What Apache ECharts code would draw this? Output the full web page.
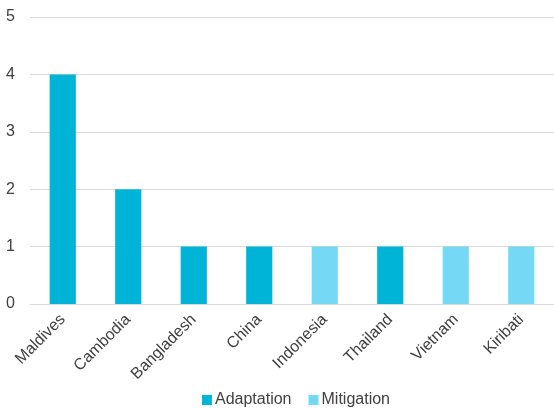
<!DOCTYPE html>
<html><head><meta charset="utf-8">
<script src="https://cdn.jsdelivr.net/npm/echarts@6/dist/echarts.min.js"></script>
<style>html,body{margin:0;padding:0;background:#fff}#c{width:554px;height:409px}</style>
</head><body><div id="c"></div>
<script>
const categories = ['Maldives','Cambodia','Bangladesh','China','Indonesia','Thailand','Vietnam','Kiribati'];
const adaptation = [4, 2, 1, 1, null, 1, null, null];
const mitigation = [null, null, null, null, 1, null, 1, 1];
const yTicks = [0,1,2,3,4,5];

const chart = echarts.init(document.getElementById('c'));
const font = 'Liberation Sans, Arial, sans-serif';
chart.setOption({
  animation: false,
  grid: {left: 30, right: 0, top: 17, bottom: 105, containLabel: false},
  legend: {
    top: 387, left: 197,
    itemWidth: 10, itemHeight: 10, itemGap: 17,
    icon: 'rect',
    textStyle: {fontFamily: font, fontSize: 16, color: '#404040', padding: [0,0,0,-2]},
    data: ['Adaptation','Mitigation']
  },
  xAxis: {
    type: 'category', data: categories,
    axisLine: {lineStyle: {color: '#d9d9d9'}},
    axisTick: {show: false},
    axisLabel: {rotate: 45, interval: 0, fontFamily: font, fontSize: 16, color: '#404040', margin: 13}
  },
  yAxis: {
    type: 'value', min: 0, max: 5, interval: 1,
    axisLine: {show: false}, axisTick: {show: false},
    splitLine: {lineStyle: {color: '#d9d9d9'}},
    axisLabel: {fontFamily: font, fontSize: 16, color: '#404040', margin: 15,
      formatter: v => yTicks.includes(v) ? String(v) : ''}
  },
  series: [
    {name: 'Adaptation', type: 'bar', stack: 's', data: adaptation, barWidth: '40%', itemStyle: {color: '#00B4D8'}},
    {name: 'Mitigation', type: 'bar', stack: 's', data: mitigation, barWidth: '40%', itemStyle: {color: '#75D9F5'}}
  ]
});
</script></body></html>
